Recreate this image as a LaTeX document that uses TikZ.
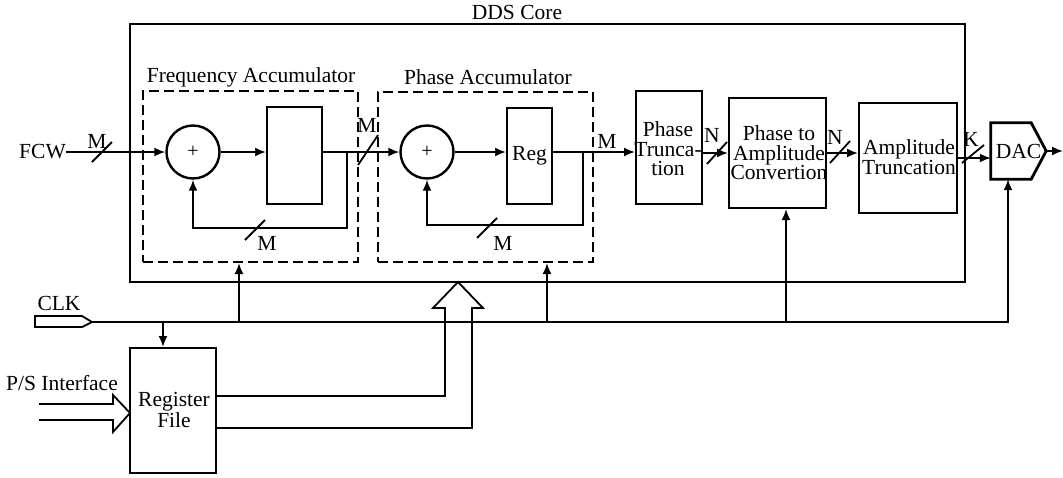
\documentclass[tikz,border=0pt]{standalone}
\usepackage{fontspec}
\setmainfont{Liberation Serif}
\usetikzlibrary{arrows.meta,calc}
\begin{document}
\begin{tikzpicture}[x=1pt,y=-1pt,
  font=\fontsize{21.5}{19.5}\selectfont,
  wire/.style={line width=1.8pt},
  arr/.style={wire,-{Latex[length=11pt,width=9pt]}},
  blk/.style={draw,line width=2pt,inner sep=0pt},
  dbox/.style={draw,line width=2pt,dash pattern=on 10pt off 5pt,inner sep=0pt},
  adder/.style={draw,circle,line width=2.4pt,minimum size=53pt,inner sep=0pt,font=\fontsize{20}{20}\selectfont},
  lbl/.style={inner sep=0pt,align=center},
]
\useasboundingbox (0,0) rectangle (1063,477);

% containers
\node[blk,minimum width=835pt,minimum height=258pt] (core) at (547.5,153) {};
\node[lbl] (coret) at (517,12) {DDS Core};
\node[dbox,minimum width=215pt,minimum height=171pt] (fa) at (250.5,176.5) {};
\node[lbl] (fat) at (251,77) {Frequency Accumulator};
\node[dbox,minimum width=215pt,minimum height=170pt] (pa) at (485.5,177) {};
\node[lbl] (pat) at (488,77) {Phase Accumulator};

% blocks
\node[adder] (add1) at (193,152) {+};
\node[blk,minimum width=55pt,minimum height=97pt] (reg1) at (294.5,155.5) {};
\node[adder] (add2) at (427,152) {+};
\node[blk,minimum width=45pt,minimum height=96pt] (reg2) at (529.5,156) {};
\node[lbl] (reg2t) at (reg2.center) {Reg};
\node[blk,minimum width=66pt,minimum height=113pt] (pt) at (669,147.5) {};
\node[lbl] (ptt) at (668,149) {Phase\\Trunca-\\tion};
\node[blk,minimum width=97pt,minimum height=110pt] (pac) at (777.5,153) {};
\node[lbl] (pact) at (779,153) {Phase to\\Amplitude\\Convertion};
\node[blk,minimum width=98pt,minimum height=110pt] (at) at (908,158) {};
\node[lbl] (att) at (909,157) {Amplitude\\Truncation};
\node[lbl,minimum width=55pt,minimum height=56pt] (dac) at (1018.5,151) {DAC};
\draw[line width=2.8pt,line join=miter] (dac.north west) -- ($(dac.north east)+(-15,0)$) -- (dac.east) -- ($(dac.south east)+(-15,0)$) -- (dac.south west) -- cycle;

% FCW input
\node[lbl,anchor=east] (fcw) at (66,152) {FCW};
\draw[arr] (fcw.east) -- (add1.west);
\draw[wire] (92,162) -- (112,142);
\node[lbl] (m1) at (97,141) {M};

% frequency accumulator
\coordinate (j1) at (347,152);
\coordinate (f1a) at (347,228);
\draw[arr] (add1.east) -- (add1.east -| reg1.west);
\draw[arr] (reg1.east |- j1) -- (add2.west);
\draw[arr] (j1) -- (f1a) -- (f1a -| add1) -- (add1.south);
\draw[wire] (245,240) -- (265,220);
\node[lbl] (m2) at (267,243) {M};
\draw[wire] (358,165) -- (378,135);
\node[lbl] (m3) at (367,125) {M};

% phase accumulator
\coordinate (j2) at (583,152);
\coordinate (f2a) at (583,225);
\draw[arr] (add2.east) -- (add2.east -| reg2.west);
\draw[arr] (reg2.east |- j2) -- (pt.west |- j2);
\draw[arr] (j2) -- (f2a) -- (f2a -| add2) -- (add2.south);
\draw[wire] (477,238) -- (497,218);
\node[lbl] (m4) at (503,243) {M};
\node[lbl] (m5) at (607,141) {M};

% datapath to DAC
\coordinate (l3) at (0,153);
\coordinate (l4) at (0,158);
\draw[arr] (pt.east |- l3) -- (pac.west |- l3);
\draw[wire] (707,164) -- (727,142);
\node[lbl] (n1) at (712,135) {N};
\draw[arr] (pac.east |- l3) -- (at.west |- l3);
\draw[wire] (830,163) -- (850,141);
\node[lbl] (n2) at (835,137) {N};
\draw[arr] (at.east |- l4) -- (dac.west |- l4);
\draw[wire] (962,163) -- (984,145);
\node[lbl] (k1) at (971,139) {K};
\coordinate (out) at (1063,151);
\draw[arr] (dac.east) -- (out);

% clock
\coordinate (clkin) at (92,322);
\draw[wire,line join=miter] (35,316) -- (82,316) -- (clkin) -- (82,327) -- (35,327) -- cycle;
\node[lbl] (clkt) at (59,303) {CLK};
\coordinate (ce) at (1008,322);
\draw[arr] (clkin) -- (ce) -- (ce |- dac.south);
\coordinate (c1) at (163,322);
\coordinate (c2) at (239,322);
\coordinate (c3) at (547,322);
\coordinate (c4) at (786,322);

% register file
\node[blk,minimum width=86pt,minimum height=125pt] (rf) at (173,410.5) {};
\node[lbl] (rft) at (174,410) {Register\\File};
\draw[arr] (c1) -- (c1 |- rf.north);
\draw[arr] (c2) -- (c2 |- fa.south);
\draw[arr] (c3) -- (c3 |- pa.south);
\draw[arr] (c4) -- (c4 |- pac.south);

\node[lbl] (pst) at (62,383) {P/S Interface};
\coordinate (psin) at (130,413);
\draw[wire,line join=miter] (39,404) -- (113,404) -- (113,395) -- (psin) -- (113,432) -- (113,420) -- (39,420);

\coordinate (bustip) at (458,282);
\draw[wire,line join=miter] (216,396) -- (445,396) -- (445,308) -- (433,308) -- (bustip) -- (483,308) -- (472,308) -- (472,428) -- (216,428);
\end{tikzpicture}
\end{document}
